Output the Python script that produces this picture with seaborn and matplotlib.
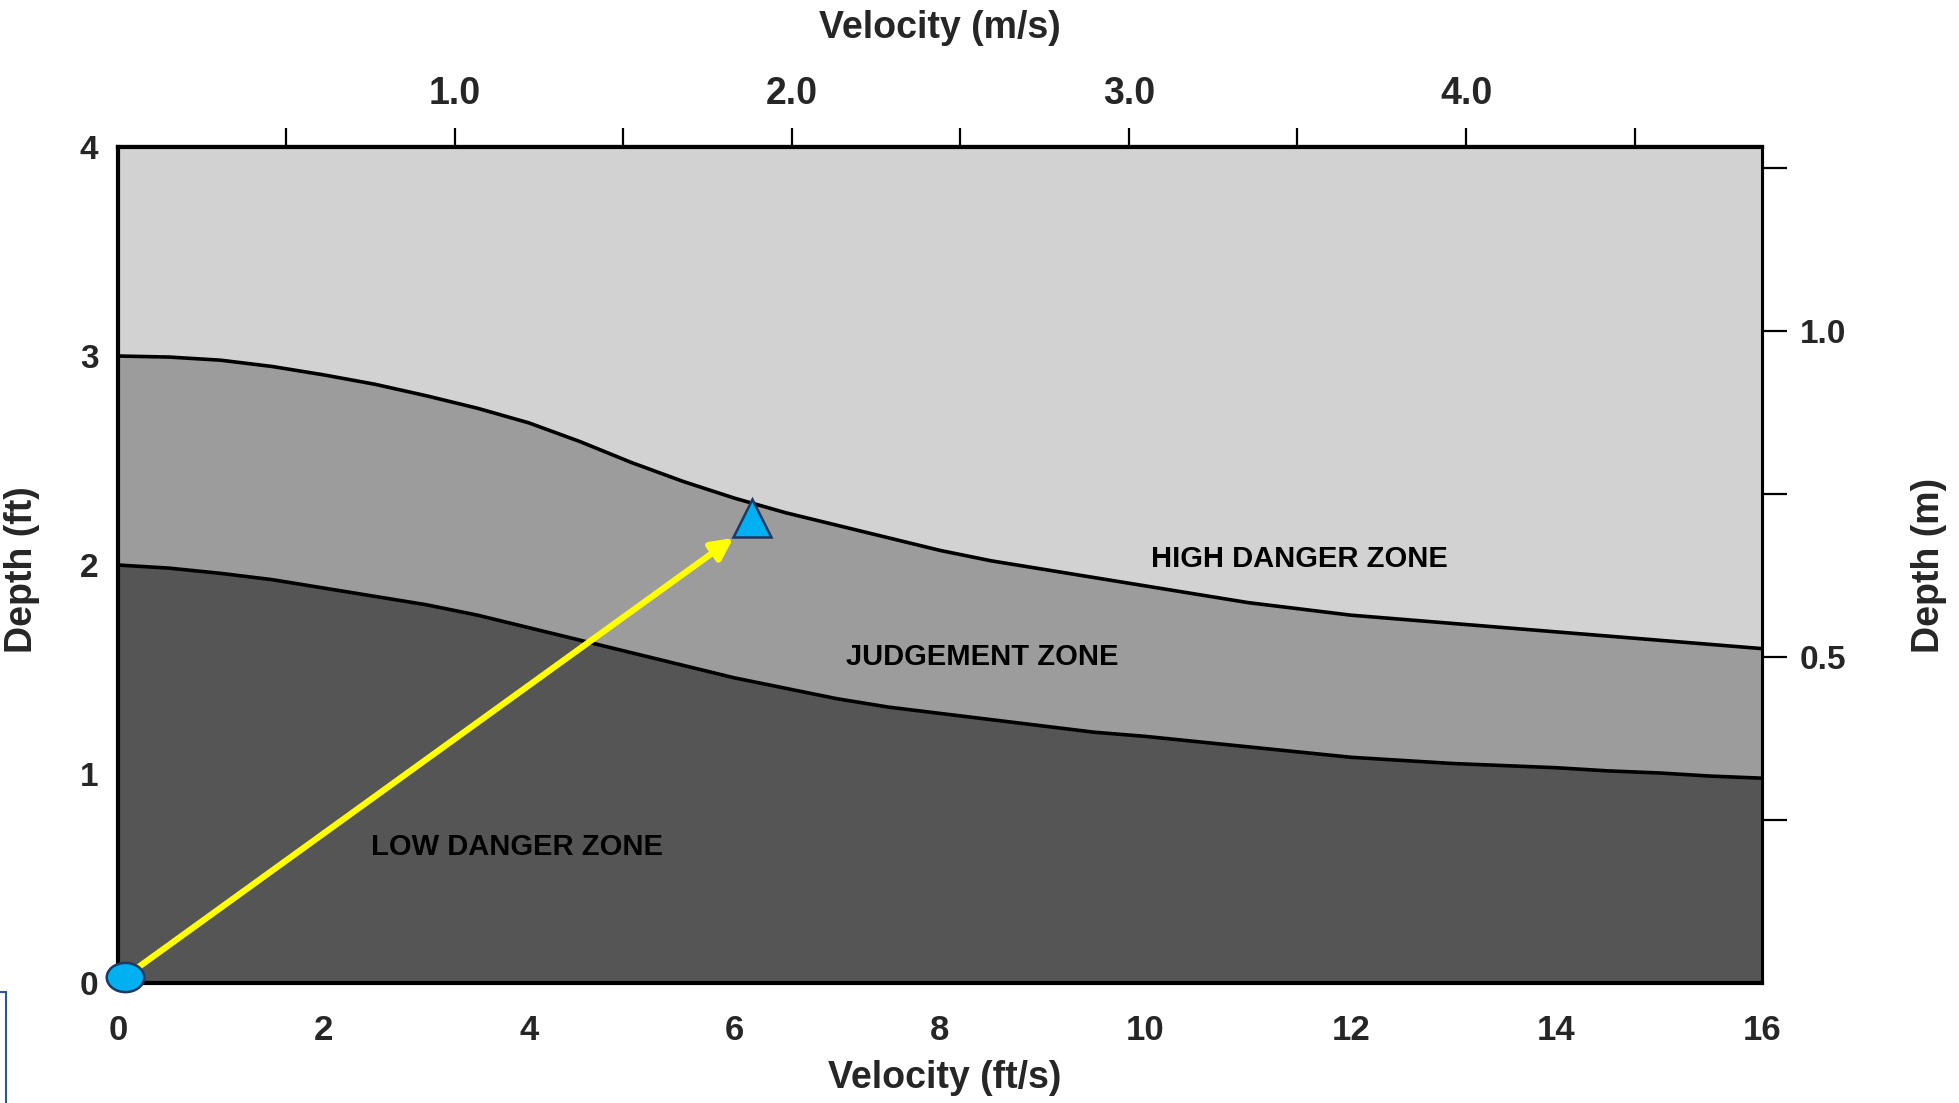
import numpy as np
import pandas as pd
import seaborn as sns
import matplotlib.pyplot as plt
from matplotlib.path import Path
from matplotlib.transforms import Affine2D
from matplotlib.patches import Rectangle

# velocity (ft/s) at which the zone boundaries were read
velocity_fts = [0, 0.5, 1, 1.5, 2, 2.5, 3, 3.5, 4, 4.5, 5, 5.5, 6, 6.5, 7, 7.5, 8,
                8.5, 9, 9.5, 10, 10.5, 11, 11.5, 12, 12.5, 13, 13.5, 14, 14.5,
                15, 15.5, 16]
# judgement / high danger boundary, depth in ft
upper_depth = [3.00, 2.995, 2.98, 2.95, 2.91, 2.865, 2.81, 2.75, 2.68, 2.59,
               2.49, 2.40, 2.32, 2.25, 2.19, 2.13, 2.07, 2.02, 1.98, 1.94,
               1.90, 1.86, 1.82, 1.79, 1.76, 1.74, 1.72, 1.70, 1.68, 1.66,
               1.64, 1.62, 1.60]
# low danger / judgement boundary, depth in ft
lower_depth = [2.00, 1.985, 1.96, 1.93, 1.89, 1.85, 1.81, 1.76, 1.70, 1.64,
               1.58, 1.52, 1.46, 1.41, 1.36, 1.32, 1.29, 1.26, 1.23, 1.20,
               1.18, 1.155, 1.13, 1.105, 1.08, 1.065, 1.05, 1.04, 1.03, 1.015,
               1.005, 0.99, 0.98]

zone_names = ['HIGH DANGER ZONE', 'JUDGEMENT ZONE', 'LOW DANGER ZONE']
zone_label_x = [11.50, 8.41, 3.88]
zone_label_y = [2.03, 1.56, 0.65]

# start point (circle) and end point (triangle)
start_pt = (0.07, 0.03)
end_pt = (6.17, 2.225)
arrow_tip = (5.99, 2.13)

x_ticks_fts = [0, 2, 4, 6, 8, 10, 12, 14, 16]
y_ticks_ft = [0, 1, 2, 3, 4]
top_ticks_ms = [0.5, 1.0, 1.5, 2.0, 2.5, 3.0, 3.5, 4.0, 4.5]
top_labels_ms = ['', '1.0', '', '2.0', '', '3.0', '', '4.0', '']
right_ticks_m = [0.25, 0.5, 0.75, 1.0, 1.25]
right_labels_m = ['', '0.5', '', '1.0', '']

FT_PER_M_VEL = 3.28   # velocity scale on the chart
FT_PER_M_DEPTH = 3.12  # depth scale as drawn on the chart

df = pd.DataFrame({'v': velocity_fts, 'upper': upper_depth, 'lower': lower_depth})

sns.set_theme(style='white')
plt.rcParams['font.family'] = ['Liberation Sans', 'DejaVu Sans']
plt.rcParams['font.weight'] = 'bold'

fig = plt.figure(figsize=(19.59, 11.03), dpi=100)
ax = fig.add_axes([0.0602, 0.1088, 0.8392, 0.7579])

# zone fills
ax.fill_between(df['v'], df['upper'], 4, color='#d2d2d2', lw=0)
ax.fill_between(df['v'], df['lower'], df['upper'], color='#9c9c9c', lw=0)
ax.fill_between(df['v'], 0, df['lower'], color='#555555', lw=0)

sns.lineplot(data=df, x='v', y='upper', ax=ax, color='black', lw=2.6)
sns.lineplot(data=df, x='v', y='lower', ax=ax, color='black', lw=2.6)

for name, lx, ly in zip(zone_names, zone_label_x, zone_label_y):
    ax.text(lx, ly, name, ha='center', va='center', fontsize=21,
            fontweight='bold', color='black')

# yellow arrow and markers
ax.annotate('', xy=arrow_tip, xytext=start_pt,
            arrowprops=dict(arrowstyle='-|>', color='#ffff00', lw=4.5,
                            mutation_scale=32, shrinkA=0, shrinkB=0),
            zorder=5)
ellipse = Path.unit_circle().transformed(Affine2D().scale(1, 0.78))
ax.plot([start_pt[0]], [start_pt[1]], marker=ellipse, ms=27,
        mfc='#00b0f0', mec='#1f3864', mew=1.8, clip_on=False, zorder=6)
ax.plot([end_pt[0]], [end_pt[1]], marker='^', ms=27,
        mfc='#00b0f0', mec='#1f3864', mew=1.8, clip_on=False, zorder=6)

ax.set_xlim(0, 16)
ax.set_ylim(0, 4)
ax.set_xticks(x_ticks_fts)
ax.set_yticks(y_ticks_ft)
ax.tick_params(axis='x', direction='in', length=26, width=1.6, color='black',
               labelsize=25, pad=22, bottom=True)
ax.tick_params(axis='y', direction='in', length=25, width=1.6, color='black',
               labelsize=24, pad=14, left=True)
for s in ax.spines.values():
    s.set_color('black')
    s.set_linewidth(3)
ax.spines['right'].set_linewidth(2.2)

ax.set_xlabel('Velocity (ft/s)', fontsize=27, fontweight='bold', va='center')
ax.xaxis.set_label_coords(0.503, -0.114)
ax.set_ylabel('Depth (ft)', fontsize=27, fontweight='bold', va='center')
ax.yaxis.set_label_coords(-0.0584, 0.495)

# top axis: m/s
top = ax.secondary_xaxis('top', functions=(lambda v: v / FT_PER_M_VEL,
                                           lambda v: v * FT_PER_M_VEL))
top.set_xticks(top_ticks_ms)
top.set_xticklabels(top_labels_ms)
top.tick_params(direction='out', length=14, width=1.6, color='black',
                labelsize=27, pad=11.5, top=True)
top.spines['top'].set_linewidth(3)
top.set_xlabel('Velocity (m/s)', fontsize=27, fontweight='bold', labelpad=27)

# right axis: m
right = ax.secondary_yaxis('right', functions=(lambda d: d / FT_PER_M_DEPTH,
                                               lambda d: d * FT_PER_M_DEPTH))
right.set_yticks(right_ticks_m)
right.set_yticklabels(right_labels_m)
right.tick_params(direction='out', length=18, width=1.6, color='black',
                  labelsize=24, pad=9, right=True)
right.spines['right'].set_linewidth(2.2)
right.set_ylabel('Depth (m)', fontsize=27, fontweight='bold', labelpad=47)

# fragment of a blue text box at the lower left edge
fig.add_artist(Rectangle((-0.05, -0.05), 0.0531, 0.1506, transform=fig.transFigure,
                         fill=False, ec='#2f5597', lw=1.5))

fig.savefig('out.png', dpi=100)
